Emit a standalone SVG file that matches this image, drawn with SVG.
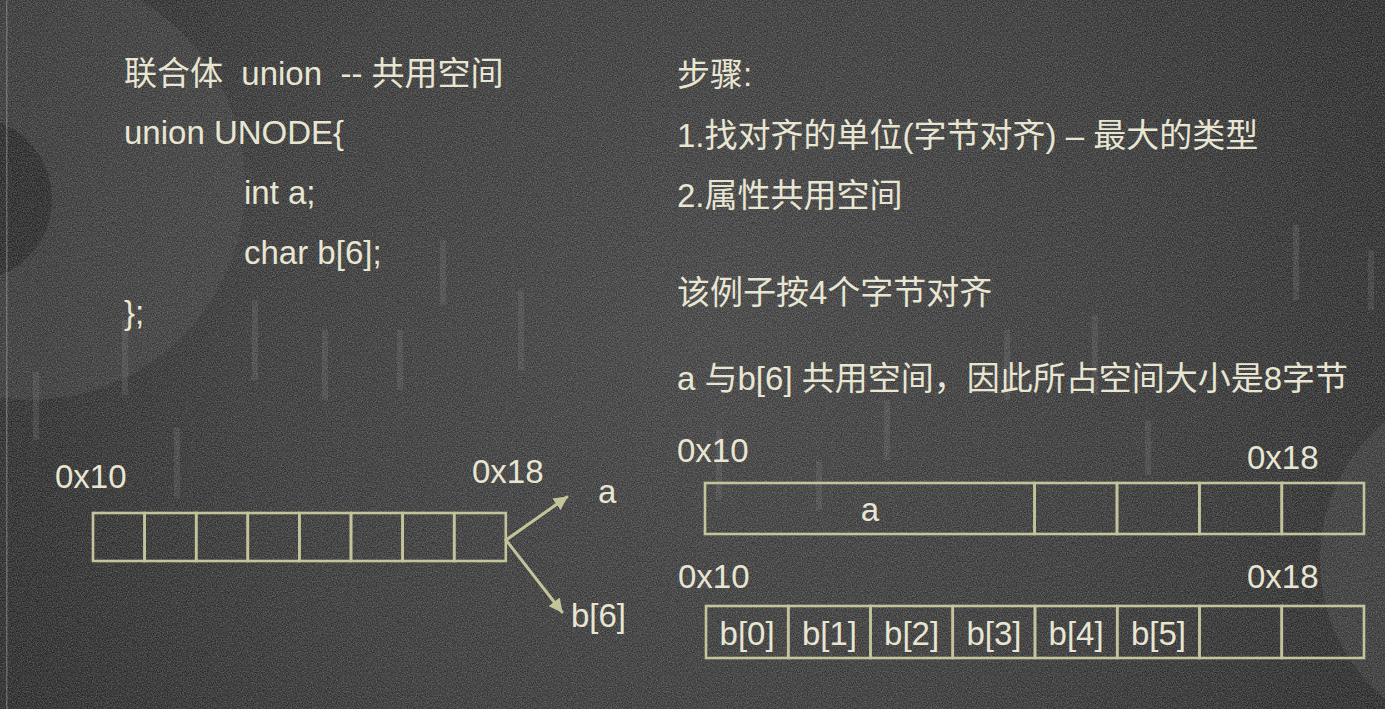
<svg xmlns="http://www.w3.org/2000/svg" width="1385" height="709" viewBox="0 0 1385 709">
  <defs>
    <style>
      .t{font-family:"Liberation Sans","Noto Sans CJK SC",sans-serif;font-size:33px;fill:#e8e6d3}
      .cell{fill:none;stroke:#c4c49b;stroke-width:2.6}
      .conn{fill:none;stroke:#c4c49b;stroke-width:3;stroke-linecap:round}
      .bar{fill:#8a8a8a;opacity:0.18}
    </style>
    <radialGradient id="bgGrad" cx="700" cy="330" r="820" gradientUnits="userSpaceOnUse">
      <stop offset="0" stop-color="#3c3c3c"/>
      <stop offset="0.55" stop-color="#323232"/>
      <stop offset="1" stop-color="#222222"/>
    </radialGradient>
    <filter id="noise" x="0" y="0" width="100%" height="100%">
      <feTurbulence type="fractalNoise" baseFrequency="0.8" numOctaves="2" seed="7"/>
      <feColorMatrix type="matrix" values="0 0 0 0 1  0 0 0 0 1  0 0 0 0 1  0.45 0 0 0 -0.12"/>
    </filter>
    <marker id="arrow" viewBox="0 0 12 12" refX="11" refY="6" markerWidth="14" markerHeight="14" markerUnits="userSpaceOnUse" orient="auto">
      <path d="M0,0 L12,6 L0,12 Z" fill="#c4c49b"/>
    </marker>
  </defs>

  <g id="background">
    <rect x="0" y="0" width="1385" height="709" fill="url(#bgGrad)"/>
    <circle cx="30" cy="185" r="215" fill="#4a4a4a" opacity="0.35"/>
    <circle cx="-30" cy="199" r="82" fill="#1f1f1f" opacity="0.75"/>
    <circle cx="1500" cy="560" r="180" fill="#555555" opacity="0.3"/>
    <rect x="6" y="0" width="1.5" height="709" fill="#9a9a9a" opacity="0.45"/>
    <rect x="33" y="372" width="6" height="68" class="bar"/>
    <rect x="122" y="320" width="6" height="75" class="bar"/>
    <rect x="174" y="428" width="6" height="70" class="bar"/>
    <rect x="252" y="300" width="6" height="80" class="bar"/>
    <rect x="322" y="330" width="6" height="70" class="bar"/>
    <rect x="397" y="330" width="6" height="60" class="bar"/>
    <rect x="440" y="240" width="6" height="65" class="bar"/>
    <rect x="518" y="290" width="6" height="80" class="bar"/>
    <rect x="716" y="430" width="6" height="70" class="bar"/>
    <rect x="816" y="460" width="6" height="50" class="bar"/>
    <rect x="884" y="400" width="6" height="60" class="bar"/>
    <rect x="1004" y="330" width="6" height="70" class="bar"/>
    <rect x="1092" y="315" width="6" height="80" class="bar"/>
    <rect x="1145" y="420" width="6" height="55" class="bar"/>
    <rect x="1293" y="225" width="6" height="75" class="bar"/>
    <rect x="1368" y="250" width="6" height="60" class="bar"/>
    <rect x="0" y="0" width="1385" height="709" fill="#ffffff" filter="url(#noise)"/>
  </g>

  <g id="code-text">
    <text class="t" x="124" y="85" xml:space="preserve">联合体  union  -- 共用空间</text>
    <text class="t" x="124" y="144">union UNODE{</text>
    <text class="t" x="244" y="204">int a;</text>
    <text class="t" x="244" y="264">char b[6];</text>
    <text class="t" x="124" y="324">};</text>
  </g>

  <g id="steps-text">
    <text class="t" x="677" y="86">步骤:</text>
    <text class="t" x="677" y="147">1.找对齐的单位(字节对齐) – 最大的类型</text>
    <text class="t" x="677" y="207">2.属性共用空间</text>
    <text class="t" x="677" y="304">该例子按4个字节对齐</text>
    <text class="t" x="677" y="390">a 与b[6] 共用空间，因此所占空间大小是8字节</text>
  </g>

  <g id="left-memory">
    <text class="t" x="55" y="488">0x10</text>
    <text class="t" x="472" y="483">0x18</text>
    <rect class="cell" x="93" y="513" width="51.6" height="48"/>
    <rect class="cell" x="144.6" y="513" width="51.6" height="48"/>
    <rect class="cell" x="196.2" y="513" width="51.6" height="48"/>
    <rect class="cell" x="247.8" y="513" width="51.6" height="48"/>
    <rect class="cell" x="299.4" y="513" width="51.6" height="48"/>
    <rect class="cell" x="351" y="513" width="51.6" height="48"/>
    <rect class="cell" x="402.6" y="513" width="51.6" height="48"/>
    <rect class="cell" x="454.2" y="513" width="51.6" height="48"/>
  </g>

  <g id="label-a">
    <text class="t" x="598" y="503">a</text>
  </g>
  <g id="label-b6">
    <text class="t" x="571" y="627">b[6]</text>
  </g>

  <g id="connectors">
    <line class="conn" x1="506" y1="540" x2="567" y2="497" marker-end="url(#arrow)"/>
    <line class="conn" x1="506" y1="540" x2="562" y2="612" marker-end="url(#arrow)"/>
  </g>

  <g id="row-a">
    <text class="t" x="677" y="462">0x10</text>
    <text class="t" x="1247" y="469">0x18</text>
    <rect class="cell" x="705" y="483" width="329.6" height="51"/>
    <rect class="cell" x="1034.6" y="483" width="82.4" height="51"/>
    <rect class="cell" x="1117" y="483" width="82.4" height="51"/>
    <rect class="cell" x="1199.4" y="483" width="82.4" height="51"/>
    <rect class="cell" x="1281.8" y="483" width="82.2" height="51"/>
    <text class="t" x="870" y="521" text-anchor="middle">a</text>
  </g>

  <g id="row-b">
    <text class="t" x="678" y="588">0x10</text>
    <text class="t" x="1247" y="588">0x18</text>
    <rect class="cell" x="706" y="606" width="82.25" height="52"/>
    <rect class="cell" x="788.25" y="606" width="82.25" height="52"/>
    <rect class="cell" x="870.5" y="606" width="82.25" height="52"/>
    <rect class="cell" x="952.75" y="606" width="82.25" height="52"/>
    <rect class="cell" x="1035" y="606" width="82.25" height="52"/>
    <rect class="cell" x="1117.25" y="606" width="82.25" height="52"/>
    <rect class="cell" x="1199.5" y="606" width="82.25" height="52"/>
    <rect class="cell" x="1281.75" y="606" width="82.25" height="52"/>
    <text class="t" x="747.1" y="645" text-anchor="middle">b[0]</text>
    <text class="t" x="829.4" y="645" text-anchor="middle">b[1]</text>
    <text class="t" x="911.6" y="645" text-anchor="middle">b[2]</text>
    <text class="t" x="993.9" y="645" text-anchor="middle">b[3]</text>
    <text class="t" x="1076.1" y="645" text-anchor="middle">b[4]</text>
    <text class="t" x="1158.4" y="645" text-anchor="middle">b[5]</text>
  </g>
</svg>
